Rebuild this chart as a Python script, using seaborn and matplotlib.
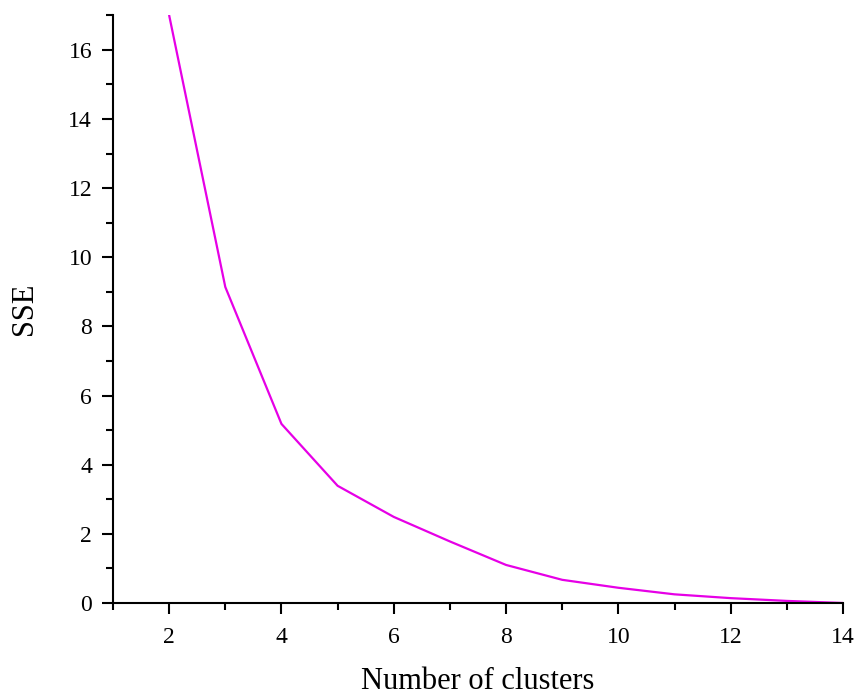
import matplotlib
matplotlib.use("Agg")
import matplotlib.pyplot as plt
import seaborn as sns
import pandas as pd
from matplotlib.ticker import MultipleLocator

clusters = [2, 3, 4, 5, 6, 7, 8, 9, 10, 11, 12, 13, 14]
sse = [17.0, 9.14, 5.18, 3.39, 2.49, 1.78, 1.10, 0.67, 0.44, 0.25, 0.14, 0.06, 0.0]

df = pd.DataFrame({"clusters": clusters, "sse": sse})

sns.set_style("ticks")
plt.rcParams['font.family'] = ['Liberation Serif', 'DejaVu Serif']
plt.rcParams['text.color'] = 'black'
plt.rcParams['axes.labelcolor'] = 'black'

fig = plt.figure(figsize=(8.58, 6.95), dpi=100)
ax = fig.add_axes([0.1317, 0.1324, 0.8508, 0.8456])
sns.lineplot(data=df, x="clusters", y="sse", color="#E600E6", linewidth=1.6, ax=ax)

ax.set_xlim(1, 14)
ax.set_ylim(0, 17)
ax.xaxis.set_major_locator(MultipleLocator(2))
ax.xaxis.set_minor_locator(MultipleLocator(1))
ax.yaxis.set_major_locator(MultipleLocator(2))
ax.yaxis.set_minor_locator(MultipleLocator(1))
ax.set_xticks([2, 4, 6, 8, 10, 12, 14])

for s in ["top", "right"]:
    ax.spines[s].set_visible(False)
for s in ["left", "bottom"]:
    ax.spines[s].set_linewidth(1.5)
    ax.spines[s].set_color("black")

ax.tick_params(axis="x", which="major", pad=9)
ax.tick_params(axis="y", which="major", pad=7)
ax.tick_params(which="major", direction="out", length=8, width=1.5, labelsize=17,
               color="black", labelcolor="black")
ax.tick_params(which="minor", direction="out", length=5, width=1.5, color="black")
ax.set_xlabel("Number of clusters", fontsize=22, labelpad=14, color="black")
ax.set_ylabel("SSE", fontsize=22, labelpad=21, color="black")

fig.savefig("out.png", dpi=100)
